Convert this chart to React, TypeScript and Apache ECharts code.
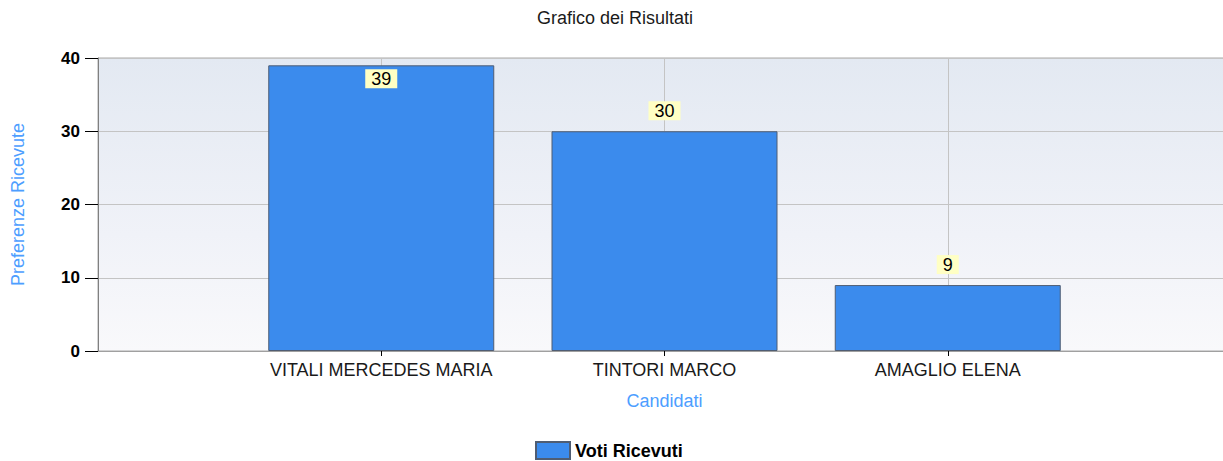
import React, { useEffect, useRef } from "react";
import * as echarts from "echarts";

const chartTitle = "Grafico dei Risultati";
const categories = ["VITALI MERCEDES MARIA", "TINTORI MARCO", "AMAGLIO ELENA"];
const votes = [39, 30, 9];
const seriesName = "Voti Ricevuti";
const yAxisName = "Preferenze Ricevute";
const xAxisName = "Candidati";
const yTicks = { min: 0, max: 40, interval: 10 };

const FONT = "Liberation Sans, Arial, sans-serif";

export default function App() {
  const ref = useRef<HTMLDivElement>(null);
  useEffect(() => {
    if (!ref.current) return;
    const chart = echarts.init(ref.current, null, { renderer: "svg" });
    const cats = ["", ...categories, ""];
    const n = cats.length;
    const data = [
      null,
      ...votes.map((v) => ({
        value: v,
        label:
          v > 35
            ? { position: "insideTop", distance: 4 }
            : { position: "top", distance: 11 },
      })),
      null,
    ];
    const innerIdx = (i: number) => i > 0 && i < n - 1;
    chart.setOption({
      animation: false,
      backgroundColor: "#ffffff",
      title: {
        text: chartTitle,
        left: 537,
        top: 9,
        padding: 0,
        textStyle: {
          fontSize: 18,
          fontWeight: "normal",
          color: "#1a1a1a",
          fontFamily: FONT,
        },
      },
      legend: {
        left: 535,
        top: 441,
        padding: 0,
        itemWidth: 34,
        itemHeight: 17,
        itemGap: 8,
        icon: "rect",
        textStyle: {
          fontSize: 18,
          fontWeight: "bold",
          color: "#000",
          fontFamily: FONT,
        },
        data: [seriesName],
      },
      grid: {
        left: 98,
        top: 58,
        width: 1133,
        height: 293,
        show: true,
        borderWidth: 1,
        borderColor: "#a8a8a8",
        backgroundColor: new echarts.graphic.LinearGradient(0, 0, 0, 1, [
          { offset: 0, color: "#e3e9f2" },
          { offset: 0.6, color: "#f0f2f8" },
          { offset: 1, color: "#f9f9fb" },
        ]),
        containLabel: false,
        outerBoundsMode: "none",
      },
      xAxis: {
        type: "category",
        data: cats,
        boundaryGap: false,
        name: xAxisName,
        nameLocation: "middle",
        nameGap: 41,
        nameTextStyle: {
          color: "#4d9eff",
          fontSize: 18,
          fontFamily: FONT,
        },
        axisLine: { show: true, lineStyle: { color: "#a0a0a0", width: 1 } },
        axisTick: {
          show: true,
          length: 5,
          interval: (i: number) => innerIdx(i),
          lineStyle: { color: "#000" },
        },
        axisLabel: {
          interval: 0,
          margin: 10,
          fontSize: 18,
          color: "#1a1a1a",
          fontFamily: FONT,
        },
        splitLine: {
          show: true,
          interval: (i: number) => innerIdx(i),
          lineStyle: { color: "#c4c4c4", width: 1 },
        },
      },
      yAxis: {
        type: "value",
        min: yTicks.min,
        max: yTicks.max,
        interval: yTicks.interval,
        name: yAxisName,
        nameLocation: "middle",
        nameGap: 71,
        nameRotate: 90,
        nameTextStyle: {
          color: "#4d9eff",
          fontSize: 18,
          fontFamily: FONT,
        },
        axisLine: { show: true, lineStyle: { color: "#808080", width: 1 } },
        axisTick: { show: true, length: 13, lineStyle: { color: "#000" } },
        axisLabel: {
          margin: 18,
          fontSize: 17,
          fontWeight: "bold",
          color: "#000",
          fontFamily: FONT,
        },
        splitLine: { show: true, lineStyle: { color: "#c4c4c4", width: 1 } },
      },
      series: [
        {
          name: seriesName,
          type: "bar",
          data,
          barWidth: 226,
          itemStyle: {
            color: "#3b8bed",
            borderColor: "#4f5d73",
            borderWidth: 1,
          },
          label: {
            show: true,
            fontSize: 18,
            color: "#000",
            backgroundColor: "#ffffc4",
            padding: [1, 6, 0, 6],
            fontFamily: FONT,
          },
        },
      ],
    });
    return () => chart.dispose();
  }, []);
  return (
    <div
      ref={ref}
      style={{ position: "fixed", left: 0, top: 0, width: 1223, height: 461 }}
    />
  );
}
